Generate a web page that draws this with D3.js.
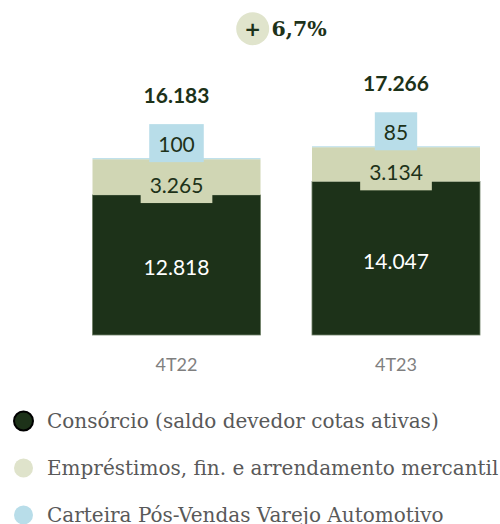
<!DOCTYPE html>
<html>
<meta charset="utf-8">
<style>
  body { margin: 0; background: #fff; }
  .num { font-family: Lato, "Open Sans", sans-serif; }
  .legend text { font-family: "DejaVu Serif", serif; fill: #595959; }
</style>
<body>
<script src="https://cdn.jsdelivr.net/npm/d3@7"></script>
<script>
// data
var categories = ["4T22", "4T23"];
var series = ["Consórcio (saldo devedor cotas ativas)", "Empréstimos, fin. e arrendamento mercantil", "Carteira Pós-Vendas Varejo Automotivo"];
var consorcio = [12818, 14047];
var emprestimos = [3265, 3134];
var posVendas = [100, 85];
var totals = [16183, 17266];
var growthLabel = "6,7%";

var colors = ["#1d3219", "#d0d6b4", "#b8dde9"];
var labelColors = ["#ffffff", "#1d3219", "#1d3219"];

var width = 500, height = 524;

var svg = d3.select("body").append("svg")
    .attr("width", width)
    .attr("height", height);

var fmt = function(v) { return d3.format(",")(v).replace(/,/g, "."); };

var x = d3.scaleBand()
    .domain(categories)
    .range([92.5, 480])
    .paddingInner(0.2346)
    .paddingOuter(0);

var y = d3.scaleLinear()
    .domain([0, 20000])
    .range([335, 335 - 218.6]);

var rows = categories.map(function(c, i) {
  return { cat: c, vals: [consorcio[i], emprestimos[i], posVendas[i]], total: totals[i] };
});

var stack = d3.stack().keys([0, 1, 2]).value(function(d, k) { return d.vals[k]; });
var layers = stack(rows);

// bars
var g = svg.append("g");
layers.forEach(function(layer, k) {
  g.selectAll(".seg" + k)
    .data(layer)
    .enter().append("rect")
      .attr("x", function(d) { return x(d.data.cat); })
      .attr("width", x.bandwidth())
      .attr("y", function(d) { return y(d[1]); })
      .attr("height", function(d) { return y(d[0]) - y(d[1]); })
      .style("fill", colors[k])
      .style("stroke", k === 0 ? "#6f7f66" : "none")
      .style("stroke-width", k === 0 ? 0.8 : 0);
});

// value labels with background boxes
function labelBox(text, cx, cy, k) {
  var t = svg.append("text")
      .attr("class", "num")
      .attr("x", cx)
      .attr("y", cy)
      .attr("text-anchor", "middle")
      .attr("dominant-baseline", "central")
      .style("font-size", "21px")
      .style("fill", labelColors[k])
      .text(text);
  if (k > 0) {
    var w = t.node().getComputedTextLength();
    svg.insert("rect", function() { return t.node(); })
        .attr("x", cx - w / 2 - 9)
        .attr("y", cy - 19)
        .attr("width", w + 18)
        .attr("height", 38)
        .style("fill", colors[k]);
  }
}

rows.forEach(function(d, i) {
  var cx = x(d.cat) + x.bandwidth() / 2;
  var s0 = layers[0][i], s1 = layers[1][i], s2 = layers[2][i];
  labelBox(fmt(d.vals[1]), cx, (y(s1[0]) + y(s1[1])) / 2 + 7, 1);
  labelBox(fmt(d.vals[2]), cx, y(s2[1]) - 15, 2);
  labelBox(fmt(d.vals[0]), cx, (y(s0[0]) + y(s0[1])) / 2 + 2, 0);

  svg.append("text")
      .attr("class", "num")
      .attr("x", cx)
      .attr("y", y(d.total) - 64)
      .attr("text-anchor", "middle")
      .attr("dominant-baseline", "central")
      .style("font-size", "21px")
      .style("font-weight", "bold")
      .style("fill", "#1d3219")
      .text(fmt(d.total));

  svg.append("text")
      .attr("class", "num")
      .attr("x", cx)
      .attr("y", 364)
      .attr("text-anchor", "middle")
      .attr("dominant-baseline", "central")
      .style("font-size", "18px")
      .style("fill", "#7f7f7f")
      .text(d.cat);
});

// growth badge
svg.append("circle")
    .attr("cx", 252.7)
    .attr("cy", 28.7)
    .attr("r", 16.5)
    .style("fill", "#e0e4cc");
svg.append("text")
    .attr("x", 252.7)
    .attr("y", 28.7)
    .attr("text-anchor", "middle")
    .attr("dominant-baseline", "central")
    .style("font-family", "'DejaVu Sans', sans-serif")
    .style("font-weight", "bold")
    .style("font-size", "20px")
    .style("fill", "#1d3219")
    .text("+");
svg.append("text")
    .attr("x", 271.5)
    .attr("y", 28.7)
    .attr("dominant-baseline", "central")
    .style("font-family", "'DejaVu Serif', serif")
    .style("font-weight", "bold")
    .style("font-size", "20.5px")
    .style("fill", "#1d3219")
    .text(growthLabel);

// legend
var legend = svg.append("g").attr("class", "legend");
var item = legend.selectAll("g")
    .data(series)
  .enter().append("g")
    .attr("transform", function(d, i) { return "translate(23.5," + (421 + i * 47) + ")"; });

item.append("circle")
    .attr("r", 9.5)
    .style("fill", function(d, i) { return i === 0 ? colors[0] : (i === 1 ? "#dfe3cb" : colors[2]); })
    .style("stroke", function(d, i) { return i === 0 ? "#000" : "none"; })
    .style("stroke-width", 2);

item.append("text")
    .attr("x", 23.5)
    .attr("dominant-baseline", "central")
    .style("font-size", "20px")
    .text(function(d) { return d; });
</script>
</body>
</html>
